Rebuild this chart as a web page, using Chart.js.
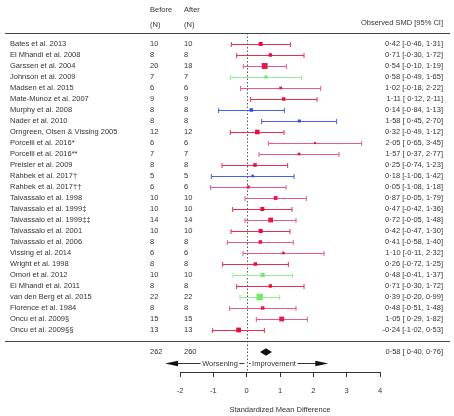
<!DOCTYPE html>
<html>
<head>
<meta charset="utf-8">
<script src="https://cdn.jsdelivr.net/npm/chart.js@4"></script>
<style>
  html, body { margin: 0; padding: 0; background: #fff; }
</style>
</head>
<body>
<canvas id="forest" width="454" height="416"></canvas>
<script>
// study rows, top to bottom
const studies = [
  'Bates et al. 2013', 'El Mhandi et al. 2008', 'Garssen et al. 2004', 'Johnson et al. 2009',
  'Madsen et al. 2015', 'Mate-Munoz et al. 2007', 'Murphy et al. 2008', 'Nader et al. 2010',
  'Orngreen, Olsen & Vissing 2005', 'Porcelli et al. 2016*', 'Porcelli et al. 2016**',
  'Preisler et al. 2009', 'Rahbek et al. 2017\u2020', 'Rahbek et al. 2017\u2020\u2020',
  'Taivassalo et al. 1998', 'Taivassalo et al. 1999\u2021', 'Taivassalo et al. 1999\u2021\u2021',
  'Taivassalo et al. 2001', 'Taivassalo et al. 2006', 'Vissing et al. 2014', 'Wright et al. 1998',
  'Omori et al. 2012', 'El Mhandi et al. 2011', 'van den Berg et al. 2015', 'Florence et al. 1984',
  'Oncu et al. 2009\u00a7', 'Oncu et al. 2009\u00a7\u00a7'
];
const nBefore = [10, 8, 20, 7, 6, 9, 8, 8, 12, 6, 7, 8, 5, 6, 10, 10, 14, 10, 8, 6, 8, 10, 8, 22, 8, 15, 13];
const nAfter  = [10, 8, 18, 7, 6, 9, 8, 8, 12, 6, 7, 8, 5, 6, 10, 10, 14, 10, 8, 6, 8, 10, 8, 22, 8, 15, 13];
const smd    = [0.42, 0.71, 0.54, 0.58, 1.02, 1.11, 0.14, 1.58, 0.32, 2.05, 1.57, 0.25, 0.18, 0.05,
                0.87, 0.47, 0.72, 0.42, 0.41, 1.10, 0.26, 0.48, 0.71, 0.39, 0.48, 1.05, -0.24];
const ciLow  = [-0.46, -0.30, -0.10, -0.49, -0.18, 0.12, -0.84, 0.45, -0.49, 0.65, 0.37, -0.74, -1.06, -1.08,
                -0.05, -0.42, -0.05, -0.47, -0.58, -0.11, -0.72, -0.41, -0.30, -0.20, -0.51, 0.29, -1.02];
const ciHigh = [1.31, 1.72, 1.19, 1.65, 2.22, 2.11, 1.13, 2.70, 1.12, 3.45, 2.77, 1.23, 1.42, 1.18,
                1.79, 1.36, 1.48, 1.30, 1.40, 2.32, 1.25, 1.37, 1.72, 0.99, 1.48, 1.82, 0.53];
// colour group of each row
const group = ['r', 'r', 'p', 'g', 'p', 'r', 'b', 'b', 'r', 'p', 'p', 'r', 'b', 'p',
               'p', 'r', 'p', 'r', 'p', 'p', 'r', 'g', 'r', 'g', 'p', 'p', 'r'];

const totalBefore = 262;
const totalAfter = 260;
const pooled = [0.58, 0.40, 0.76]; // estimate, low, high
const xTicks = [-2, -1, 0, 1, 2, 3, 4];

const lineColors = { r: '#e4304e', p: '#e25890', g: '#98ee98', b: '#4660e6' };
const boxColors  = { r: '#ec0c3c', p: '#e8184c', g: '#74e86a', b: '#3050e8' };
const textColor = '#333';
const fontFamily = '"Liberation Sans", Arial, sans-serif';
const fontSize = 7.5;

// square size from inverse-variance weight, as metafor does
const sqrtW = ciLow.map((lo, i) => 3.92 / (ciHigh[i] - lo));
const wMin = Math.min(...sqrtW), wMax = Math.max(...sqrtW);
const boxSide = sqrtW.map(w => 2.2 + (w - wMin) / (wMax - wMin) * 4.3);

function fmt(v) {
  return (v < 0 ? '-' : '') + Math.abs(v).toFixed(2).replace('.', '\u00b7');
}
function ciText(est, lo, hi) {
  return fmt(est) + ' [' + (lo >= 0 ? ' ' : '') + fmt(lo) + ', ' + fmt(hi) + ']';
}

const forestPlugin = {
  id: 'forest',
  beforeDatasetsDraw(chart) {
    const ctx = chart.ctx;
    const xs = chart.scales.x, ys = chart.scales.y;
    ctx.save();
    // dotted line at zero
    ctx.strokeStyle = '#555';
    ctx.lineWidth = 1;
    ctx.setLineDash([1.5, 2]);
    ctx.beginPath();
    const x0 = Math.round(xs.getPixelForValue(0)) + 0.5;
    ctx.moveTo(x0, ys.getPixelForValue(-1));
    ctx.lineTo(x0, ys.bottom);
    ctx.stroke();
    ctx.setLineDash([]);

    // confidence intervals
    studies.forEach((s, i) => {
      const y = Math.round(ys.getPixelForValue(i)) + 0.5;
      const a = xs.getPixelForValue(ciLow[i]);
      const b = xs.getPixelForValue(ciHigh[i]);
      ctx.strokeStyle = lineColors[group[i]];
      ctx.lineWidth = 1;
      ctx.beginPath();
      ctx.moveTo(a, y); ctx.lineTo(b, y);
      ctx.moveTo(a, y - 2.5); ctx.lineTo(a, y + 2.5);
      ctx.moveTo(b, y - 2.5); ctx.lineTo(b, y + 2.5);
      ctx.stroke();
    });
    ctx.restore();
  },
  afterDraw(chart) {
    const ctx = chart.ctx;
    const xs = chart.scales.x, ys = chart.scales.y;
    ctx.save();
    ctx.font = fontSize + 'px ' + fontFamily;
    ctx.fillStyle = textColor;
    ctx.textBaseline = 'middle';

    // header
    ctx.textAlign = 'left';
    ctx.fillText('Before', 150, ys.getPixelForValue(-3.1));
    ctx.fillText('After', 184, ys.getPixelForValue(-3.1));
    ctx.fillText('(N)', 150, ys.getPixelForValue(-1.75));
    ctx.fillText('(N)', 184, ys.getPixelForValue(-1.75));
    ctx.textAlign = 'right';
    ctx.fillText('Observed SMD [95% CI]', 443, ys.getPixelForValue(-1.9));

    // rules
    ctx.strokeStyle = '#444';
    ctx.lineWidth = 1.2;
    [-1, 27].forEach(r => {
      const y = Math.round(ys.getPixelForValue(r)) + 0.5;
      ctx.beginPath();
      ctx.moveTo(5, y); ctx.lineTo(450, y);
      ctx.stroke();
    });

    // rows
    studies.forEach((s, i) => {
      const y = ys.getPixelForValue(i);
      ctx.textAlign = 'left';
      ctx.fillText(s, 10, y);
      ctx.fillText(String(nBefore[i]), 150, y);
      ctx.fillText(String(nAfter[i]), 184, y);
      ctx.textAlign = 'right';
      ctx.fillText(ciText(smd[i], ciLow[i], ciHigh[i]), 443, y);
    });

    // summary row
    const ySum = ys.getPixelForValue(28);
    ctx.textAlign = 'left';
    ctx.fillText(String(totalBefore), 150, ySum);
    ctx.fillText(String(totalAfter), 184, ySum);
    ctx.textAlign = 'right';
    ctx.fillText(ciText(pooled[0], pooled[1], pooled[2]), 443, ySum);
    ctx.fillStyle = '#111';
    ctx.beginPath();
    ctx.moveTo(xs.getPixelForValue(pooled[1]), ySum);
    ctx.lineTo(xs.getPixelForValue(pooled[0]), ySum - 3.8);
    ctx.lineTo(xs.getPixelForValue(pooled[2]), ySum);
    ctx.lineTo(xs.getPixelForValue(pooled[0]), ySum + 3.8);
    ctx.closePath();
    ctx.fill();

    // direction arrows
    const yA = Math.round(ys.getPixelForValue(29)) + 0.5;
    ctx.strokeStyle = '#333';
    ctx.lineWidth = 1;
    [[-1, 'Worsening', -0.8], [1, 'Improvement', 0.82]].forEach(([dir, label, at]) => {
      const start = xs.getPixelForValue(0.07 * dir);
      const tip = xs.getPixelForValue(2.45 * dir);
      ctx.beginPath();
      ctx.moveTo(start, yA); ctx.lineTo(tip - dir * 10, yA);
      ctx.stroke();
      ctx.fillStyle = '#111';
      ctx.beginPath();
      ctx.moveTo(tip, yA);
      ctx.lineTo(tip - dir * 13, yA - 2.8);
      ctx.lineTo(tip - dir * 13, yA + 2.8);
      ctx.closePath();
      ctx.fill();
      const cx = xs.getPixelForValue(at);
      const w = ctx.measureText(label).width;
      ctx.fillStyle = '#fff';
      ctx.fillRect(cx - w / 2 - 1.5, yA - 5, w + 3, 10);
      ctx.fillStyle = textColor;
      ctx.textAlign = 'center';
      ctx.fillText(label, cx, yA);
    });
    ctx.restore();
  }
};

const font = { family: fontFamily, size: fontSize };

new Chart(document.getElementById('forest'), {
  type: 'scatter',
  data: {
    datasets: [{
      data: smd.map((v, i) => ({ x: v, y: i })),
      pointStyle: 'rect',
      pointRadius: boxSide.map(s => s / Math.SQRT2),
      pointHoverRadius: boxSide.map(s => s / Math.SQRT2),
      backgroundColor: group.map(g => boxColors[g]),
      borderWidth: 0
    }]
  },
  options: {
    responsive: false,
    animation: false,
    events: [],
    layout: { autoPadding: false, padding: { left: 180, right: 74, top: 0, bottom: 0 } },
    plugins: {
      legend: { display: false },
      tooltip: { enabled: false }
    },
    scales: {
      x: {
        type: 'linear',
        min: -2,
        max: 4,
        afterBuildTicks: axis => { axis.ticks = xTicks.map(v => ({ value: v })); },
        grid: { drawOnChartArea: false, drawTicks: true, tickLength: 5, color: '#333' },
        border: { color: '#333', width: 1 },
        ticks: { font: font, color: textColor, padding: 9, callback: v => String(v) },
        title: {
          display: true,
          text: 'Standardized Mean Difference',
          font: font,
          color: textColor,
          padding: { top: 1, bottom: 2 }
        }
      },
      y: {
        type: 'linear',
        min: -4,
        max: 29.82,
        reverse: true,
        display: false
      }
    }
  },
  plugins: [forestPlugin]
});
</script>
</body>
</html>
